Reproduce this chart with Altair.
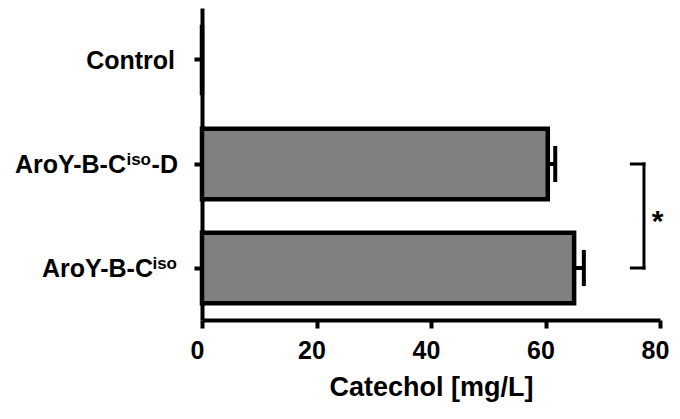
import altair as alt
import pandas as pd

# ---- data ----
categories = ["Control", "AroY-B-Ciso-D", "AroY-B-Ciso"]
means = [0.0, 60.4, 65.0]
errors = [0.0, 1.3, 1.7]

# significance annotation between the two strains
sig_pair = ["AroY-B-Ciso-D", "AroY-B-Ciso"]
sig_bracket_x = 77.2
sig_arm_x = 75.0
sig_star_x = 79.6
sig_label = "*"

x_ticks = [0, 20, 40, 60, 80]
x_title = "Catechol [mg/L]"

# label segments (text, superscript?) per category
label_parts = {
    "Control": [("Control", False)],
    "AroY-B-Ciso-D": [("AroY-B-C", False), ("iso", True), ("-D", False)],
    "AroY-B-Ciso": [("AroY-B-C", False), ("iso", True)],
}

FONT = "Liberation Sans"
MAIN_SIZE = 25
SUP_SIZE = 17
# right-edge pixel offsets of each segment from the y axis (style only)
seg_dx = {
    "Control": [-27],
    "AroY-B-Ciso-D": [-76, -51, -24],
    "AroY-B-Ciso": [-49, -25],
}

df = pd.DataFrame({"cat": categories, "mean": means, "err": errors})
df["hi"] = df["mean"] + df["err"]

yscale = alt.Scale(domain=categories, paddingInner=0.32, paddingOuter=0.16)
xscale = alt.Scale(domain=[0, 80], nice=False, zero=True)

base = alt.Chart(df)

bars = base.mark_bar(fill="#808080", stroke="black", strokeWidth=4.5).encode(
    y=alt.Y("cat:N", scale=yscale, sort=categories,
            axis=alt.Axis(labels=False, title=None, domainWidth=4, domainColor="black",
                          tickSize=8, tickWidth=4, tickColor="black", grid=False)),
    x=alt.X("mean:Q", scale=xscale,
            axis=alt.Axis(values=x_ticks, title=x_title, grid=False, domainWidth=4,
                          domainColor="black", tickSize=8, tickWidth=4, tickColor="black",
                          labelFont=FONT, labelFontSize=25, labelFontWeight="bold",
                          labelColor="black", labelPadding=10, labelOffset=-5, titleFont=FONT,
                          titleFontSize=27, titleFontWeight="bold", titleColor="black",
                          titlePadding=11, labelFlush=False)),
)

err_line = base.transform_filter("datum.err > 0").mark_rule(color="black", strokeWidth=4).encode(
    y=alt.Y("cat:N", scale=yscale, sort=categories),
    x=alt.X("mean:Q", scale=xscale),
    x2="hi:Q",
)
err_cap = base.transform_filter("datum.err > 0").mark_tick(
    color="black", thickness=4, size=36, orient="vertical", opacity=1).encode(
    y=alt.Y("cat:N", scale=yscale, sort=categories),
    x=alt.X("hi:Q", scale=xscale),
)

sig_df = pd.DataFrame({"c1": [sig_pair[0]], "c2": [sig_pair[1]], "bx": [sig_bracket_x]})
bracket_v = alt.Chart(sig_df).mark_rule(color="black", strokeWidth=3, strokeCap="square").encode(
    x=alt.X("bx:Q", scale=xscale),
    y=alt.Y("c1:N", scale=yscale, sort=categories),
    y2="c2:N",
)
arms_df = pd.DataFrame({"cat": sig_pair, "x1": [sig_arm_x] * 2, "x2": [sig_bracket_x] * 2})
bracket_h = alt.Chart(arms_df).mark_rule(color="black", strokeWidth=3, strokeCap="square").encode(
    x=alt.X("x1:Q", scale=xscale),
    x2="x2:Q",
    y=alt.Y("cat:N", scale=yscale, sort=categories),
)
star = alt.Chart(pd.DataFrame({"cat": [sig_pair[0]], "x": [sig_star_x], "t": [sig_label]})).mark_text(
    font=FONT, fontSize=30, fontWeight="bold", align="center", baseline="alphabetic",
    dy=67, color="black").encode(
    x=alt.X("x:Q", scale=xscale),
    y=alt.Y("cat:N", scale=yscale, sort=categories),
    text="t:N",
)

label_layers = []
for cat in categories:
    for (txt, sup), dx in zip(label_parts[cat], seg_dx[cat]):
        label_layers.append(
            alt.Chart(pd.DataFrame({"cat": [cat], "t": [txt]})).mark_text(
                font=FONT, fontSize=SUP_SIZE if sup else MAIN_SIZE, fontWeight="bold",
                align="right", baseline="alphabetic", dx=dx, dy=1 if sup else 9,
                color="black").encode(
                x=alt.value(0),
                y=alt.Y("cat:N", scale=yscale, sort=categories),
                text="t:N",
            )
        )

chart = alt.layer(bars, err_line, err_cap, bracket_v, bracket_h, star, *label_layers).properties(
    width=458, height=312,
    background="white",
    autosize=alt.AutoSizeParams(type="none"),
    padding={"left": 194, "top": 0, "right": 12, "bottom": 86},
).configure_view(stroke=None)

chart.save("out.html", embed_options={"renderer": "svg", "actions": False})
